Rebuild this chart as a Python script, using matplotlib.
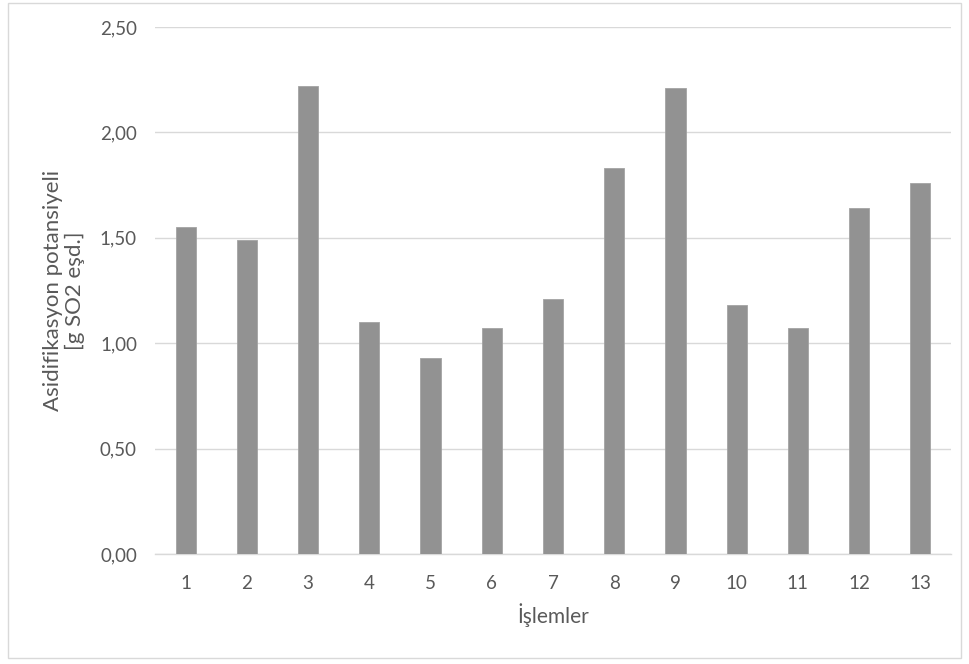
import matplotlib
matplotlib.use("Agg")
import matplotlib.pyplot as plt
from matplotlib.patches import Rectangle
from matplotlib.ticker import FuncFormatter, MultipleLocator

# data
treatments = ["1", "2", "3", "4", "5", "6", "7", "8", "9", "10", "11", "12", "13"]
acid_potential = [1.55, 1.49, 2.22, 1.10, 0.93, 1.07, 1.21, 1.83, 2.21, 1.18, 1.07, 1.64, 1.76]

plt.rcParams["font.family"] = ["Lato", "DejaVu Sans"]
text_color = "#595959"

fig = plt.figure(figsize=(9.69, 6.64), dpi=100)
ax = fig.add_axes([0.16, 0.1657, 0.8214, 0.7936])

x = range(len(treatments))
ax.bar(x, acid_potential, width=0.33, color="#929292", edgecolor="#a3a3a3",
       linewidth=0.6, zorder=3)

ax.set_xlim(-0.5, len(treatments) - 0.5)
ax.set_ylim(0, 2.5)
ax.yaxis.set_major_locator(MultipleLocator(0.5))
ax.yaxis.set_major_formatter(FuncFormatter(lambda v, p: f"{v:.2f}".replace(".", ",")))
ax.set_xticks(list(x))
ax.set_xticklabels(treatments)

ax.grid(axis="y", color="#d9d9d9", linewidth=1.0, zorder=0)
for side in ["top", "right", "left"]:
    ax.spines[side].set_visible(False)
ax.spines["bottom"].set_color("#d9d9d9")
ax.spines["bottom"].set_linewidth(1.0)
ax.tick_params(axis="both", length=0, labelsize=13.5, labelcolor=text_color)
ax.tick_params(axis="x", pad=15)
ax.tick_params(axis="y", pad=13)

ax.set_xlabel("İşlemler", fontsize=15, color=text_color, labelpad=8)
ax.set_ylabel("Asidifikasyon potansiyeli\n[g SO2 eşd.]", fontsize=16,
              color=text_color, labelpad=11, linespacing=1.1)

# light frame around the whole chart
fig.patches.append(Rectangle((8 / 969, 6 / 664), 953 / 969, 655 / 664,
                             transform=fig.transFigure, fill=False,
                             edgecolor="#d9d9d9", linewidth=1.0))

fig.savefig("out.png", dpi=100, facecolor="white")
